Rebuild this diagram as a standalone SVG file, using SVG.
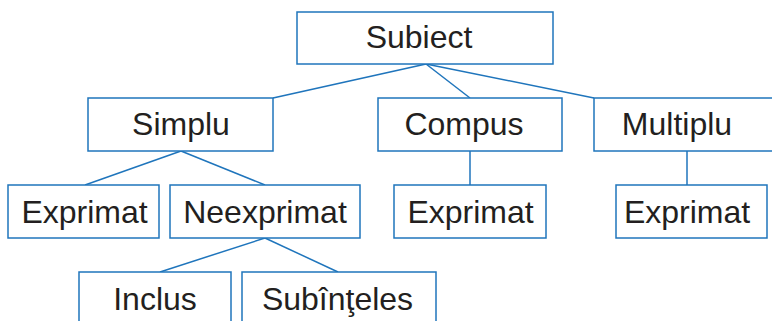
<svg xmlns="http://www.w3.org/2000/svg" width="772" height="321" viewBox="0 0 772 321">
<style>
.b{fill:#fff;stroke:#1f75bc;stroke-width:1.5}
.l{stroke:#1f75bc;stroke-width:1.5;fill:none}
text{font-family:"Liberation Sans",Arial,sans-serif;font-size:32px;fill:#231f20;text-anchor:middle}
</style>
<rect width="772" height="321" fill="#fff"/>
<g id="connectors">
<line class="l" x1="426" y1="64" x2="273" y2="98"/>
<line class="l" x1="426" y1="64" x2="470" y2="98"/>
<line class="l" x1="426" y1="64" x2="594" y2="98"/>
<line class="l" x1="181" y1="151" x2="85" y2="185"/>
<line class="l" x1="181" y1="151" x2="265" y2="185"/>
<line class="l" x1="470" y1="151" x2="470" y2="185"/>
<line class="l" x1="687" y1="151" x2="687" y2="185"/>
<line class="l" x1="265" y1="238" x2="160" y2="272"/>
<line class="l" x1="265" y1="238" x2="338" y2="272"/>
</g>
<g id="subiect"><rect class="b" x="297" y="12" width="256" height="52"/><text x="419" y="48">Subiect</text></g>
<g id="simplu"><rect class="b" x="88" y="98" width="185" height="53"/><text x="181" y="135">Simplu</text></g>
<g id="compus"><rect class="b" x="378" y="98" width="184" height="53"/><text x="464" y="135">Compus</text></g>
<g id="multiplu"><rect class="b" x="594" y="98" width="190" height="53"/><text x="677" y="135">Multiplu</text></g>
<g id="exprimat1"><rect class="b" x="8" y="185" width="151" height="53"/><text x="84.5" y="223">Exprimat</text></g>
<g id="neexprimat"><rect class="b" x="170" y="185" width="190" height="53"/><text x="265" y="223">Neexprimat</text></g>
<g id="exprimat2"><rect class="b" x="394" y="185" width="152" height="53"/><text x="470.5" y="223">Exprimat</text></g>
<g id="exprimat3"><rect class="b" x="616" y="185" width="151" height="53"/><text x="687" y="223">Exprimat</text></g>
<g id="inclus"><rect class="b" x="79" y="272" width="152" height="60"/><text x="155" y="310">Inclus</text></g>
<g id="subinteles"><rect class="b" x="242" y="272" width="194" height="60"/><text x="337.5" y="310">Subînţeles</text></g>
</svg>
